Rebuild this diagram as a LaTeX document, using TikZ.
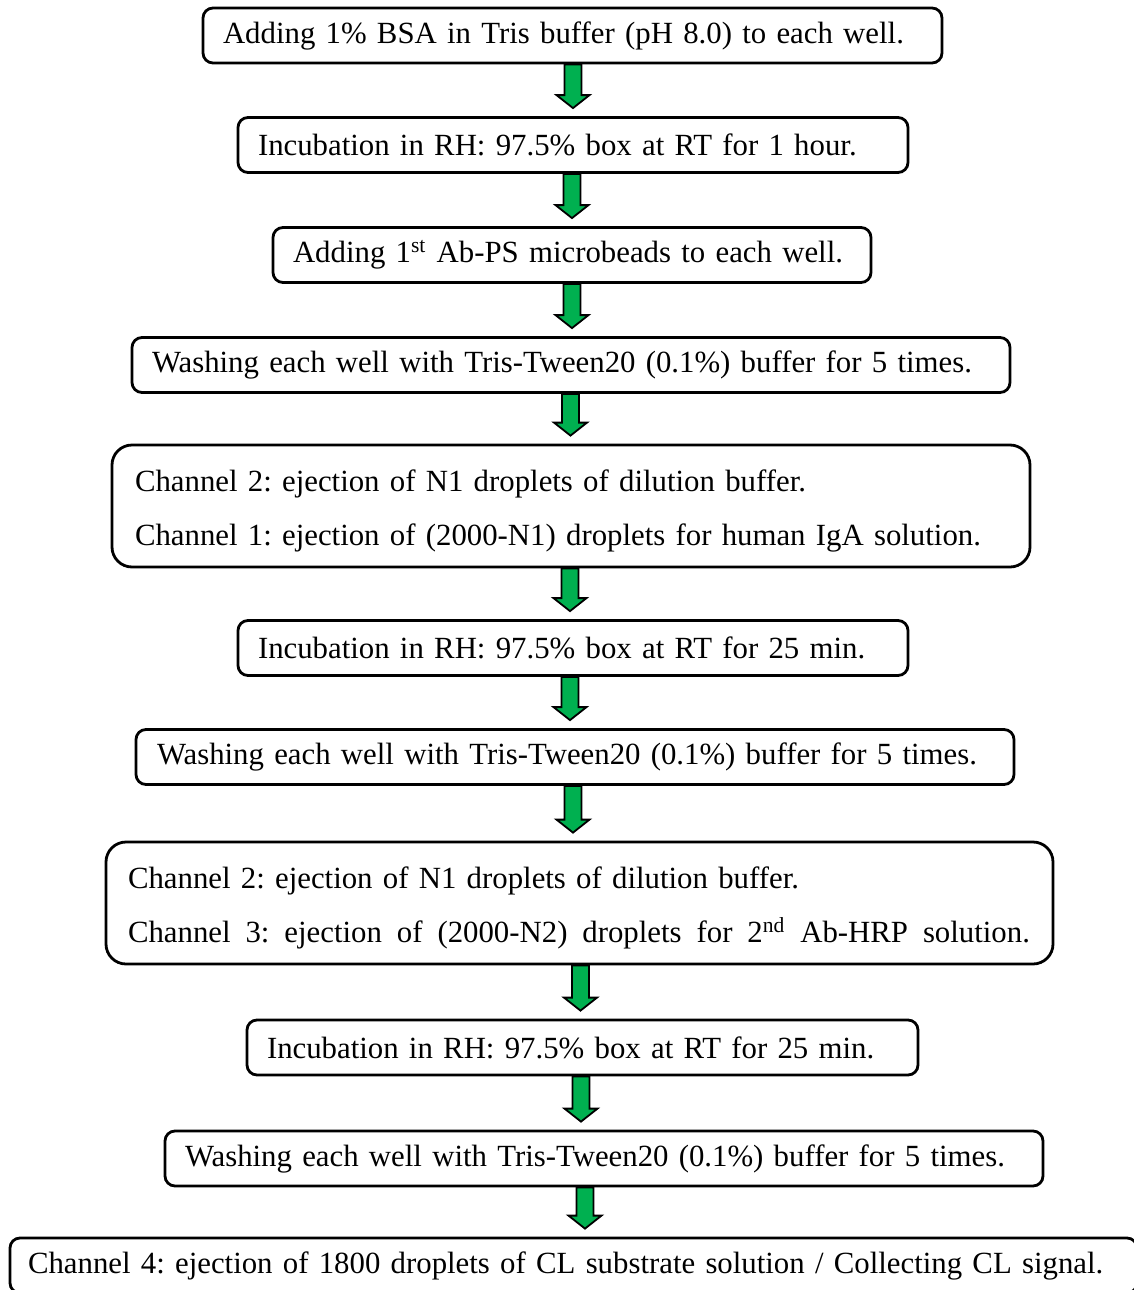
\documentclass[tikz,border=0pt]{standalone}
\usepackage{fontspec}
\setmainfont{Liberation Serif}
\usetikzlibrary{calc}
\definecolor{arrowgreen}{RGB}{0,176,80}

\tikzset{
  stepbox/.style={draw, line width=1.4pt, rounded corners=5pt, fill=white,
    inner xsep=10pt, inner ysep=0pt, minimum height=27.5pt, align=left,
    font=\fontsize{15.4}{27}\selectfont\frenchspacing},
  twoline/.style={rounded corners=10pt, minimum height=61pt, inner xsep=11pt,
    execute at begin node=\rule{0pt}{16pt}},
  flowarrow/.style={fill=arrowgreen, draw=black, line width=0.9pt, line join=miter}
}

% green block arrow from the bottom of box #1 down towards box #2, shaft at x=#3
\newcommand\flowarrow[3]{%
  \filldraw[flowarrow]
    let \p1=(#3,0 |- #1.south), \p2=(#3,0 |- #2.north) in
    (\x1-4.25pt,\y1) -- (\x1+4.25pt,\y1)
    -- (\x1+4.25pt,\y2+10.5pt) -- (\x1+8.25pt,\y2+10.5pt)
    -- (\x1,\y2+4pt) -- (\x1-8.25pt,\y2+10.5pt)
    -- (\x1-4.25pt,\y2+10.5pt) -- cycle;}

% line spread over the full width
\newcommand\spreadline[2]{\hbox to #1{\spaceskip=.25em plus 1fil\relax #2}}

\begin{document}
\begin{tikzpicture}[x=0.5pt,y=-0.5pt]
  \useasboundingbox (0,0) rectangle (1134,1290);
  \clip (0,0) rectangle (1134,1290);

  \node[stepbox, text width=349.5pt] (b1) at (572.5,35.5)
    {Adding 1\% BSA in Tris buffer (pH 8.0) to each well.};
  \node[stepbox, text width=315pt] (b2) at (573,145)
    {Incubation in RH: 97.5\% box at RT for 1 hour.};
  \node[stepbox, text width=279pt] (b3) at (572,255)
    {Adding 1\textsuperscript{st} Ab-PS microbeads to each well.};
  \node[stepbox, text width=419pt] (b4) at (571,365)
    {Washing each well with Tris-Tween20 (0.1\%) buffer for 5 times.};
  \node[stepbox, twoline, inner xsep=11.5pt, text width=436pt] (b5) at (571,506)
    {Channel 2: ejection of N1 droplets of dilution buffer.\\
     Channel 1: ejection of (2000-N1) droplets for human IgA solution.};
  \node[stepbox, text width=315pt] (b6) at (573,648)
    {Incubation in RH: 97.5\% box at RT for 25 min.};
  \node[stepbox, inner xsep=10.5pt, text width=418pt] (b7) at (575,757)
    {Washing each well with Tris-Tween20 (0.1\%) buffer for 5 times.};
  \node[stepbox, twoline, text width=451.5pt] (b8) at (579.5,903)
    {Channel 2: ejection of N1 droplets of dilution buffer.\\
     \spreadline{451pt}{Channel 3: ejection of (2000-N2) droplets for 2\textsuperscript{nd} Ab-HRP solution.}};
  \node[stepbox, text width=315.5pt] (b9) at (582.5,1047.5)
    {Incubation in RH: 97.5\% box at RT for 25 min.};
  \node[stepbox, text width=419pt] (b10) at (604,1158.5)
    {Washing each well with Tris-Tween20 (0.1\%) buffer for 5 times.};
  \node[stepbox, inner xsep=9pt, text width=545.5pt] (b11) at (573.5,1265.5)
    {Channel 4: ejection of 1800 droplets of CL substrate solution / Collecting CL signal.};

  \flowarrow{b1}{b2}{573}
  \flowarrow{b2}{b3}{572}
  \flowarrow{b3}{b4}{572}
  \flowarrow{b4}{b5}{570.5}
  \flowarrow{b5}{b6}{570}
  \flowarrow{b6}{b7}{570}
  \flowarrow{b7}{b8}{573}
  \flowarrow{b8}{b9}{580.5}
  \flowarrow{b9}{b10}{581}
  \flowarrow{b10}{b11}{585}
\end{tikzpicture}
\end{document}
